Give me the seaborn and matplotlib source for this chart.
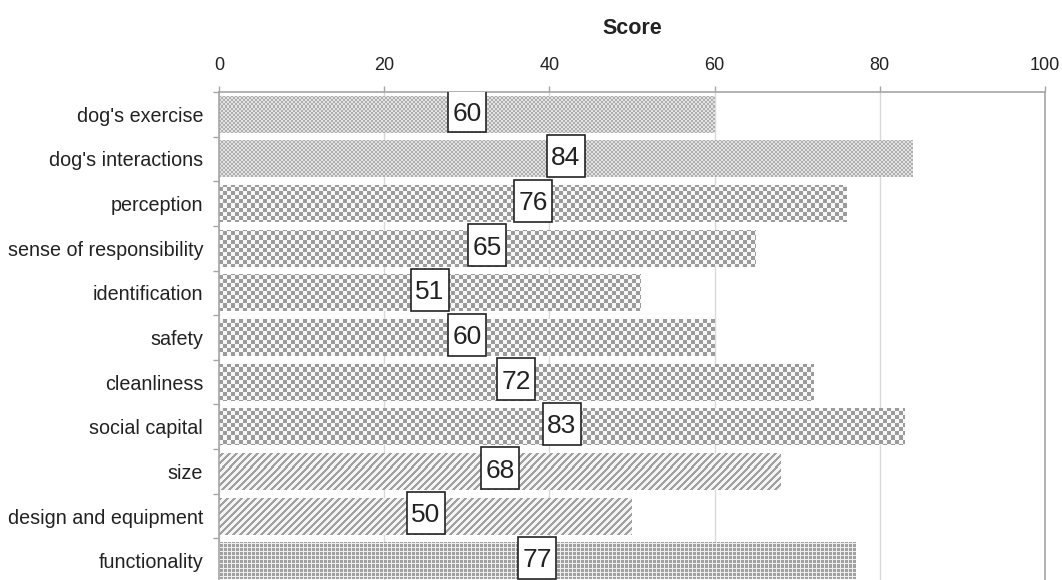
import numpy as np
import pandas as pd
import matplotlib
matplotlib.use("Agg")
import matplotlib.pyplot as plt
import matplotlib.patches as mpatches
from matplotlib.transforms import IdentityTransform
import seaborn as sns

# Scores per park aspect
categories = [
    "dog's exercise",
    "dog's interactions",
    "perception",
    "sense of responsibility",
    "identification",
    "safety",
    "cleanliness",
    "social capital",
    "size",
    "design and equipment",
    "functionality",
]
scores = [60, 84, 76, 65, 51, 60, 72, 83, 68, 50, 77]
x_ticks = [0, 20, 40, 60, 80, 100]

# Fill texture used for each bar (grouped by dimension)
fills = ["fine", "fine", "checker", "checker", "checker", "checker",
         "checker", "checker", "stripe", "stripe", "grid"]

sns.set_theme(style="white")
plt.rcParams["font.family"] = ["Liberation Sans", "DejaVu Sans"]

TEXT = "#222222"
AXIS = "#a6a6a6"

fig = plt.figure(figsize=(10.62, 5.8), dpi=100)
ax_top, ax_h = 92, 491
ax = fig.add_axes([219 / 1062, 1 - (ax_top + ax_h) / 580, 826 / 1062, ax_h / 580])

df = pd.DataFrame({"category": categories, "score": scores})
sns.barplot(data=df, x="score", y="category", orient="h", color="#c4c4c4",
            saturation=1, width=0.83, ax=ax, zorder=2)

ax.set_xlim(0, 100)
ax.set_ylim(10.5, -0.5)


def texture(kind, h, w):
    yy, xx = np.mgrid[0:h, 0:w]
    if kind == "fine":
        m = ((xx // 2 + yy // 2) % 2) == 0
        dark, light = 0.69, 0.89
    elif kind == "checker":
        m = ((xx // 4 + yy // 4) % 2) == 0
        dark, light = 0.61, 0.97
    elif kind == "stripe":
        m = ((xx + yy) % 7) < 3
        dark, light = 0.63, 0.96
    else:
        m = ~(((xx % 4) == 0) | ((yy % 4) == 0))
        dark, light = 0.63, 0.94
    g = np.where(m, dark, light)
    return np.dstack([g, g, g])


fig.canvas.draw()
bb = ax.get_window_extent()
W, H = int(round(bb.width)), int(round(bb.height))
cache = {}
for patch, kind in zip(ax.patches, fills):
    if kind not in cache:
        cache[kind] = texture(kind, H, W)
    im = ax.imshow(cache[kind], extent=(0, 1, 0, 1), transform=ax.transAxes,
                   origin="upper", aspect="auto", interpolation="nearest",
                   resample=False, zorder=2.5)
    im.set_clip_path(patch)
    patch.set_edgecolor("none")

ax.set_xlim(0, 100)
ax.set_ylim(10.5, -0.5)

# Value labels: boxed numbers at the middle of each bar
FS = 19
digit_h = 0.716 * FS * 100 / 72
box_w, box_h = 38, 42
for i, v in enumerate(scores):
    cx, cy = ax.transData.transform((v / 2, i))
    cy += 3
    rect = mpatches.Rectangle((cx - box_w / 2, cy - box_h / 2), box_w, box_h,
                              transform=IdentityTransform(), fc="white",
                              ec="#222222", lw=1.2, zorder=5)
    ax.add_artist(rect)
    ax.text(cx, cy - digit_h / 2, str(v), transform=IdentityTransform(),
            ha="center", va="baseline", fontsize=FS, color=TEXT, zorder=6)

# X axis on top
ax.xaxis.tick_top()
ax.xaxis.set_label_position("top")
ax.set_xticks(x_ticks)
ax.set_xticklabels([str(t) for t in x_ticks])
ax.tick_params(axis="x", top=True, bottom=False, length=4, width=1, color=AXIS,
               pad=9, labelsize=13, labelcolor=TEXT)
ax.set_xlabel("Score", fontsize=15.5, fontweight="bold", color=TEXT, labelpad=16.5)

# Y axis: labels at bar centres, tick marks between categories
ax.set_yticks(range(len(categories)))
ax.set_yticklabels(categories)
ax.set_ylabel("")
ax.tick_params(axis="y", which="major", left=False, length=0, pad=11.5,
               labelsize=14.2, labelcolor=TEXT)
ax.set_yticks(np.arange(-0.5, len(categories), 1), minor=True)
ax.tick_params(axis="y", which="minor", left=True, length=4.5, width=1, color=AXIS)

ax.grid(axis="x", color="#d9d9d9", lw=1)
ax.grid(axis="y", visible=False)
ax.set_axisbelow(True)

for side in ["top", "left", "right"]:
    ax.spines[side].set_visible(True)
    ax.spines[side].set_color(AXIS)
    ax.spines[side].set_linewidth(1.2)
ax.spines["bottom"].set_visible(False)

fig.savefig("out.png", dpi=100)
